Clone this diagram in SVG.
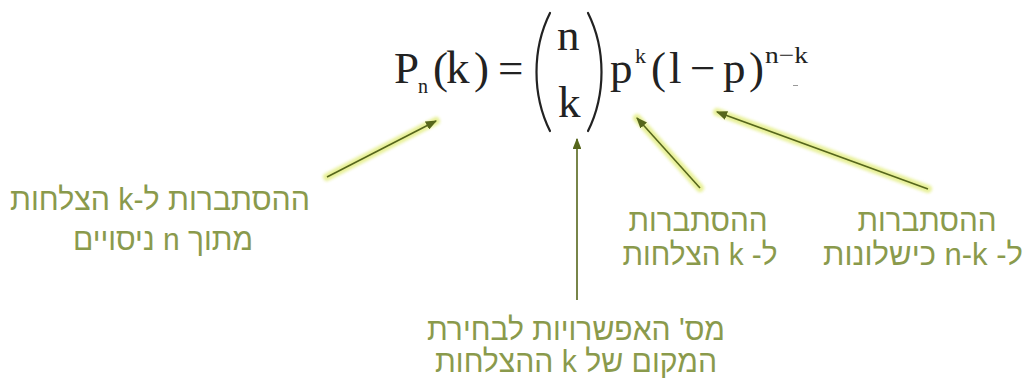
<svg xmlns="http://www.w3.org/2000/svg" width="1028" height="383" viewBox="0 0 1028 383">
  <style>
    .m { font-family: "Liberation Serif", "Times New Roman", serif; fill: #222; }
    .paren { stroke: #222; stroke-width: 2.2; fill: none; stroke-linecap: round; }
    .lbl { font-family: "Liberation Sans", "DejaVu Sans", sans-serif; font-size: 31px; fill: #8a9a4c; direction: rtl; text-anchor: middle; }
    .glow { stroke: #e4ee86; stroke-width: 8; stroke-linecap: round; fill: none; opacity: 0.85; filter: url(#blur); }
    .core { stroke: #56661c; stroke-width: 1.6; fill: none; marker-end: url(#ah); }
  </style>
  <defs>
    <filter id="blur" x="-20%" y="-20%" width="140%" height="140%">
      <feGaussianBlur stdDeviation="1.6"/>
    </filter>
    <marker id="ah" viewBox="0 0 10 8" refX="9" refY="4" markerWidth="7" markerHeight="5.6" orient="auto" markerUnits="strokeWidth">
      <path d="M0,0 L10,4 L0,8 Z" fill="#56661c"/>
    </marker>
  </defs>
  <rect width="1028" height="383" fill="#ffffff"/>

  <g id="formula">
    <text class="m" x="394" y="83" font-size="45">P</text>
    <text class="m" x="418" y="93" font-size="20">n</text>
    <text class="m" x="433" y="83" font-size="45">(</text>
    <text class="m" x="446" y="83" font-size="47">k</text>
    <text class="m" x="474" y="83" font-size="45">)</text>
    <text class="m" x="498" y="83" font-size="45" textLength="26">=</text>
    <path class="paren" d="M550,13 C539,35 536.5,55 536.5,72 C536.5,89 539,109 550,131"/>
    <text class="m" x="557" y="50" font-size="45">n</text>
    <text class="m" x="558" y="117" font-size="45">k</text>
    <path class="paren" d="M588,13 C599,35 601.5,55 601.5,72 C601.5,89 599,109 588,131"/>
    <text class="m" x="610" y="83" font-size="45">p</text>
    <text class="m" x="635" y="63" font-size="22">k</text>
    <text class="m" x="651" y="83" font-size="45">(</text>
    <text class="m" x="669" y="83" font-size="45">l</text>
    <text class="m" x="690" y="83" font-size="45" textLength="26">−</text>
    <text class="m" x="723" y="83" font-size="45">p</text>
    <text class="m" x="749" y="83" font-size="45">)</text>
    <text class="m" x="765" y="63" font-size="24" textLength="43" lengthAdjust="spacingAndGlyphs">n−k</text>
    <rect x="793" y="85" width="5" height="1" fill="#999"/>
  </g>

  <g id="connectors">
    <line class="glow" x1="327" y1="177" x2="436" y2="121"/>
    <line class="core" x1="327" y1="177" x2="436" y2="121"/>
    <line class="glow" x1="577" y1="300" x2="577" y2="139"/>
    <line class="core" x1="577" y1="300" x2="577" y2="139"/>
    <line class="glow" x1="700" y1="188" x2="637" y2="118"/>
    <line class="core" x1="700" y1="188" x2="637" y2="118"/>
    <line class="glow" x1="928" y1="189" x2="717" y2="112"/>
    <line class="core" x1="928" y1="189" x2="717" y2="112"/>
  </g>

  <g id="label-pnk">
    <text class="lbl" x="160" y="210" textLength="300" lengthAdjust="spacingAndGlyphs">ההסתברות ל-k הצלחות</text>
    <text class="lbl" x="163" y="250" textLength="180" lengthAdjust="spacingAndGlyphs">מתוך n ניסויים</text>
  </g>
  <g id="label-binom">
    <text class="lbl" x="576" y="340" textLength="298" lengthAdjust="spacingAndGlyphs">מס' האפשרויות לבחירת</text>
    <text class="lbl" x="576" y="372" textLength="282" lengthAdjust="spacingAndGlyphs">המקום של k ההצלחות</text>
  </g>
  <g id="label-pk">
    <text class="lbl" x="698" y="231" textLength="139" lengthAdjust="spacingAndGlyphs">ההסתברות</text>
    <text class="lbl" x="700" y="265" textLength="155" lengthAdjust="spacingAndGlyphs">ל- k הצלחות</text>
  </g>
  <g id="label-fail">
    <text class="lbl" x="927" y="231" textLength="139" lengthAdjust="spacingAndGlyphs">ההסתברות</text>
    <text class="lbl" x="923" y="265" textLength="200" lengthAdjust="spacingAndGlyphs">ל- n-k כישלונות</text>
  </g>
</svg>
